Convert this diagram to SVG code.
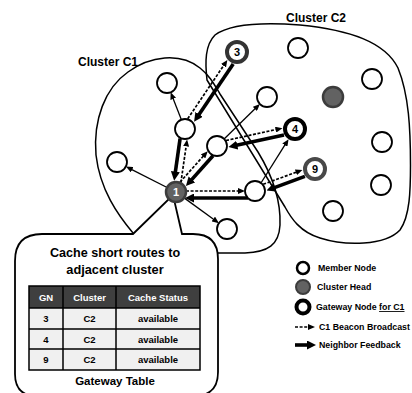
<svg xmlns="http://www.w3.org/2000/svg" width="412" height="393" viewBox="0 0 412 393">
<style>
text{font-family:"Liberation Sans",Arial,sans-serif;font-weight:bold;fill:#000}
.cl{fill:none;stroke:#000;stroke-width:1.5}
.mem{fill:#fff;stroke:#000;stroke-width:1.8}
.thin{stroke:#000;stroke-width:1.3;fill:none;marker-end:url(#ah)}
.dash{stroke:#000;stroke-width:1.7;stroke-dasharray:3 1.6;fill:none;marker-end:url(#ah)}
.thick{stroke:#000;stroke-width:3.6;fill:none;marker-end:url(#ahb)}
.head{fill:#626262;stroke:#3c3c3c;stroke-width:2.5}
.gw{fill:#fff;stroke-width:4}
.num{font-size:11px;text-anchor:middle}
.tb{font-size:9.5px;text-anchor:middle}
.lg{font-size:8.8px}
.grid{fill:none;stroke:#000;stroke-width:1.5}
</style>
<defs>
<marker id="ah" viewBox="0 0 7 6" refX="2" refY="3" markerWidth="7" markerHeight="6" markerUnits="userSpaceOnUse" orient="auto"><path d="M0,0 L7,3 L0,6 z" fill="#000"/></marker>
<marker id="ahb" viewBox="0 0 9 9" refX="2" refY="4.5" markerWidth="9" markerHeight="9" markerUnits="userSpaceOnUse" orient="auto"><path d="M0,0 L9,4.5 L0,9 z" fill="#000"/></marker>
</defs>
<rect width="412" height="393" fill="#fff"/>

<g id="cluster-c2">
<path class="cl" d="M207,80 L285,207 C291,218 300,232 320,238 C345,246 385,246 400,230 C410,216 410.5,190 410.5,165 C410.5,130 409,95 398,68 C385,42 350,30 300,25 C260,22 230,24 215,35 C205,45 205,62 207,80 Z"/>
<text x="286" y="22" font-size="12">Cluster C2</text>
</g>
<g id="cluster-c1">
<path class="cl" d="M133,233 C118,215 100,190 96,155 C93,120 105,88 128,72 C150,56 180,52 200,68 C210,76 214,84 220,94 L258,152 C272,175 281,200 280,225 C279,245 268,252 245,253 L200,253 L150,250 Z"/>
<text x="78" y="66" font-size="12">Cluster C1</text>
</g>

<g id="callout">
<path d="M15,261 Q15,234 42,234 L133,234 L173,195 L182,234 L193,234 Q218,234 218,259 L218,372 Q218,396 194,396 L37,396 Q15,396 15,374 Z" fill="#fff" stroke="#000" stroke-width="1.8"/>
<text x="115" y="257" font-size="12.6" text-anchor="middle">Cache short routes to</text>
<text x="115" y="274" font-size="12.8" text-anchor="middle">adjacent cluster</text>
<g id="gateway-table">
<rect x="29" y="286" width="171" height="22" fill="#3f3f3f"/>
<rect x="29" y="308" width="171" height="62" fill="#f0f0f0"/>
<rect class="grid" x="29" y="286" width="171" height="84"/>
<path class="grid" d="M29,308 H200 M29,329 H200 M29,349 H200 M63,286 V370 M116,286 V370"/>
<text class="tb" x="46" y="300.5" style="fill:#fff">GN</text>
<text class="tb" x="89.5" y="300.5" style="fill:#fff">Cluster</text>
<text class="tb" x="158" y="300.5" style="fill:#fff">Cache Status</text>
<text class="tb" x="46" y="322">3</text>
<text class="tb" x="89.5" y="322">C2</text>
<text class="tb" x="158" y="322">available</text>
<text class="tb" x="46" y="342.5">4</text>
<text class="tb" x="89.5" y="342.5">C2</text>
<text class="tb" x="158" y="342.5">available</text>
<text class="tb" x="46" y="363">9</text>
<text class="tb" x="89.5" y="363">C2</text>
<text class="tb" x="158" y="363">available</text>
</g>
<text x="115" y="385" font-size="11.5" text-anchor="middle">Gateway Table</text>
</g>

<g id="connectors">
<path class="thin" d="M167.1,187.5 L130.4,168.8"/>
<path class="thin" d="M184.1,197.9 L214.9,220.2"/>
<path class="thin" d="M181.4,119.7 L172.5,97.0"/>
<path class="thin" d="M224.1,139.0 L256.3,107.5"/>
<path class="thin" d="M261.3,182.5 L285.9,143.4"/>
<path class="dash" d="M180.9,182.6 L186.4,144.4"/>
<path class="thick" d="M180.1,138.4 L175.1,173.7"/>
<path class="dash" d="M180.0,182.2 L204.4,154.9"/>
<path class="thick" d="M213.0,155.8 L190.6,180.9"/>
<path class="dash" d="M186,191 L240,191"/>
<path class="thick" d="M248,198 L192,198"/>
<path class="dash" d="M187.7,118.8 L224.6,64.1"/>
<path class="thick" d="M233.2,63.9 L198.0,116.0"/>
<path class="dash" d="M226.0,140.5 L277.6,129.2"/>
<path class="thick" d="M284.0,135.0 L235.3,145.6"/>
<path class="dash" d="M263.2,184.3 L297.8,171.6"/>
<path class="thick" d="M304.9,176.4 L273.1,188.1"/>
</g>

<g id="members">
<circle class="mem" cx="167" cy="83" r="10"/>
<circle class="mem" cx="185" cy="129" r="10"/>
<circle class="mem" cx="217" cy="146" r="10"/>
<circle class="mem" cx="117" cy="162" r="10"/>
<circle class="mem" cx="255" cy="191" r="10"/>
<circle class="mem" cx="227" cy="229" r="10"/>
<circle class="mem" cx="267" cy="97" r="10"/>
<circle class="mem" cx="298" cy="48" r="10"/>
<circle class="mem" cx="372" cy="79" r="10"/>
<circle class="mem" cx="382" cy="142" r="10"/>
<circle class="mem" cx="381" cy="185" r="10"/>
<circle class="mem" cx="333" cy="211" r="10"/>
</g>
<g id="head-c1">
<circle class="head" cx="176" cy="192" r="10"/>
<text class="num" x="176" y="196" style="fill:#fff">1</text>
</g>
<g id="head-c2">
<circle class="head" cx="333" cy="97" r="10"/>
</g>
<g id="gw3">
<circle class="gw" cx="237" cy="52" r="10" stroke="#333"/>
<text class="num" x="237" y="56">3</text>
</g>
<g id="gw4">
<circle class="gw" cx="295" cy="129" r="10" stroke="#000"/>
<text class="num" x="295" y="133">4</text>
</g>
<g id="gw9">
<circle class="gw" cx="315" cy="169" r="10" stroke="#484848"/>
<text class="num" x="315" y="173">9</text>
</g>

<g id="legend">
<circle cx="303" cy="268" r="6" fill="#fff" stroke="#000" stroke-width="2.5"/>
<text class="lg" x="318" y="271">Member Node</text>
<circle cx="303" cy="287" r="7" fill="#626262" stroke="#3c3c3c" stroke-width="2"/>
<text class="lg" x="317" y="290">Cluster Head</text>
<circle cx="303" cy="307" r="6.5" fill="#fff" stroke="#000" stroke-width="4"/>
<text class="lg" x="316" y="310">Gateway Node <tspan text-decoration="underline">for C1</tspan></text>
<path class="dash" d="M295,327 L310,327"/>
<text class="lg" x="319" y="330" font-size="8.5">C1 Beacon Broadcast</text>
<path class="thick" d="M295,345 L309,345"/>
<text class="lg" x="319" y="348">Neighbor Feedback</text>
</g>
</svg>
